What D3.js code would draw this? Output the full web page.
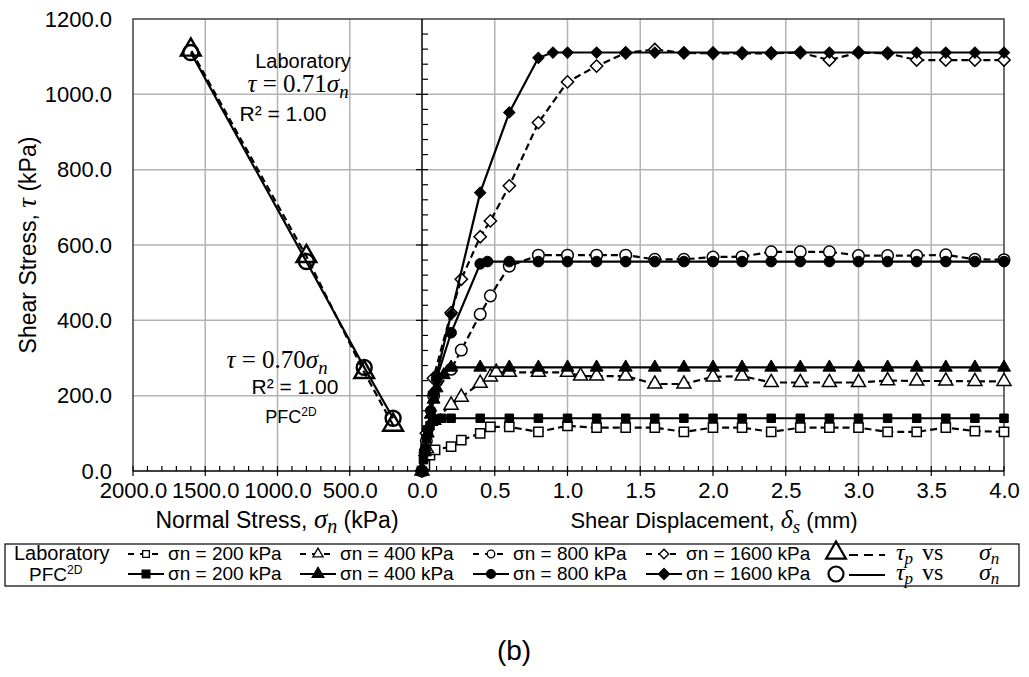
<!DOCTYPE html>
<html lang="en">
<head>
<meta charset="UTF-8">
<title>Shear stress vs displacement (b)</title>
<style>
  body { margin: 0; background: #fff; }
  text { font-family: Arial, "Liberation Sans", sans-serif; fill: #000; }
  .serif { font-family: "Liberation Serif", "DejaVu Serif", serif; }
</style>
</head>
<body>
<div class="canvas"></div>
<script src="https://cdnjs.cloudflare.com/ajax/libs/d3/7.8.5/d3.min.js"></script>
<script>
// ---- data ----
// left panel: peak shear stress vs normal stress
const normalStress = [200, 400, 800, 1600];
const labPeak = [122, 262, 570, 1118];
const pfcPeak = [140, 275, 556, 1111];

// right panel: [shear displacement (mm), shear stress (kPa)]
const lab200 = [[0,0],[0.02,15],[0.055,42],[0.09,56],[0.2,65],[0.27,82],[0.4,100],[0.47,117],[0.6,117],[0.8,104],[1.0,120],[1.2,115],[1.4,115],[1.6,115],[1.8,104],[2.0,115],[2.2,115],[2.4,104],[2.6,115],[2.8,115],[3.0,115],[3.2,104],[3.4,104],[3.6,115],[3.8,106],[4.0,104]];
const lab400 = [[0,0],[0.03,60],[0.08,135],[0.2,175],[0.27,196],[0.4,233],[0.47,250],[0.51,262],[0.6,262],[0.8,262],[1.0,262],[1.09,252],[1.2,252],[1.4,252],[1.6,231],[1.8,231],[2.0,250],[2.2,252],[2.4,235],[2.6,235],[2.8,235],[3.0,235],[3.2,240],[3.4,239],[3.6,239],[3.8,238],[4.0,238]];
const lab800 = [[0,0],[0.03,80],[0.08,200],[0.2,270],[0.27,321],[0.4,416],[0.47,465],[0.6,544],[0.8,573],[1.0,573],[1.2,573],[1.4,573],[1.6,562],[1.8,562],[2.0,568],[2.2,569],[2.4,582],[2.6,582],[2.8,582],[3.0,572],[3.2,572],[3.4,572],[3.6,574],[3.8,562],[4.0,561]];
const lab1600 = [[0,0],[0.03,100],[0.078,246],[0.2,420],[0.27,509],[0.4,622],[0.47,664],[0.6,757],[0.8,925],[1.0,1033],[1.2,1075],[1.4,1110],[1.6,1119],[1.8,1110],[2.0,1109],[2.2,1109],[2.4,1109],[2.6,1111],[2.8,1091],[3.0,1111],[3.2,1109],[3.4,1091],[3.6,1091],[3.8,1091],[4.0,1091]];

const pfc200 = [[0,0],[0.01,30],[0.02,60],[0.03,85],[0.04,100],[0.055,120],[0.08,132],[0.1,138],[0.135,140],[0.2,140],[0.4,140],[0.6,140],[0.8,140],[1.0,140],[1.2,140],[1.4,140],[1.6,140],[1.8,140],[2.0,140],[2.2,140],[2.4,140],[2.6,140],[2.8,140],[3.0,140],[3.2,140],[3.4,140],[3.6,140],[3.8,140],[4.0,140]];
const pfc400 = [[0,0],[0.02,50],[0.04,100],[0.06,150],[0.08,190],[0.1,220],[0.15,255],[0.2,275],[0.4,275],[0.6,275],[0.8,275],[1.0,275],[1.2,275],[1.4,275],[1.6,275],[1.8,275],[2.0,275],[2.2,275],[2.4,275],[2.6,275],[2.8,275],[3.0,275],[3.2,275],[3.4,275],[3.6,275],[3.8,275],[4.0,275]];
const pfc800 = [[0,0],[0.02,55],[0.04,110],[0.06,160],[0.08,205],[0.1,245],[0.2,367],[0.4,550],[0.45,556],[0.6,556],[0.8,556],[1.0,556],[1.2,556],[1.4,556],[1.6,556],[1.8,556],[2.0,556],[2.2,556],[2.4,556],[2.6,556],[2.8,556],[3.0,556],[3.2,556],[3.4,556],[3.6,556],[3.8,556],[4.0,556]];
const pfc1600 = [[0,0],[0.02,55],[0.04,110],[0.06,160],[0.08,210],[0.1,255],[0.2,416],[0.4,739],[0.6,952],[0.8,1097],[0.9,1111],[1.0,1111],[1.2,1111],[1.4,1111],[1.6,1111],[1.8,1111],[2.0,1111],[2.2,1111],[2.4,1111],[2.6,1111],[2.8,1111],[3.0,1111],[3.2,1111],[3.4,1111],[3.6,1111],[3.8,1111],[4.0,1111]];

const yTicks = [0, 200, 400, 600, 800, 1000, 1200];
const leftTicks = [2000, 1500, 1000, 500];
const rightTicks = [0, 0.5, 1.0, 1.5, 2.0, 2.5, 3.0, 3.5, 4.0];
const legendLabels = ['σn = 200 kPa', 'σn = 400 kPa', 'σn = 800 kPa', 'σn = 1600 kPa'];

// ---- setup ----
const svg = d3.select('.canvas').append('svg')
  .attr('width', 1029)
  .attr('height', 677);

const y = d3.scaleLinear().domain([0, 1200]).range([471, 19]);
const xL = d3.scaleLinear().domain([2000, 0]).range([133, 422]);
const xR = d3.scaleLinear().domain([0, 4]).range([422, 1004]);

const gridCol = '#b3b3b3';
const tickFont = '22px';

// gridlines
svg.append('g').selectAll('line').data([200, 400, 600, 800, 1000]).join('line')
  .attr('x1', 133).attr('x2', 1004)
  .attr('y1', d => y(d)).attr('y2', d => y(d))
  .attr('stroke', gridCol).attr('stroke-width', 1.5);
svg.append('g').selectAll('line').data([1500, 1000, 500]).join('line')
  .attr('x1', d => xL(d)).attr('x2', d => xL(d))
  .attr('y1', 19).attr('y2', 471)
  .attr('stroke', gridCol).attr('stroke-width', 1.5);
svg.append('g').selectAll('line').data([0.5, 1, 1.5, 2, 2.5, 3, 3.5]).join('line')
  .attr('x1', d => xR(d)).attr('x2', d => xR(d))
  .attr('y1', 19).attr('y2', 471)
  .attr('stroke', gridCol).attr('stroke-width', 1.5);

// frame
svg.append('path')
  .attr('d', 'M133,471 V19 H1004 V471')
  .attr('fill', 'none').attr('stroke', '#404040').attr('stroke-width', 1.5);

// y axis labels
const yAxis = svg.append('g')
  .attr('transform', 'translate(133,0)')
  .call(d3.axisLeft(y).tickValues(yTicks).tickSize(0).tickPadding(21).tickFormat(d3.format('.1f')));
yAxis.select('.domain').remove();

// x axes labels
const xAxisL = svg.append('g')
  .attr('transform', 'translate(0,471)')
  .call(d3.axisBottom(xL).tickValues(leftTicks).tickSize(0).tickPadding(11).tickFormat(d3.format('.1f')));
xAxisL.select('.domain').remove();
const xAxisR = svg.append('g')
  .attr('transform', 'translate(0,471)')
  .call(d3.axisBottom(xR).tickValues(rightTicks).tickSize(0).tickPadding(11).tickFormat(d3.format('.1f')));
xAxisR.select('.domain').remove();
svg.selectAll('.tick text').style('font-size', tickFont).style('font-family', 'Arial, "Liberation Sans", sans-serif');

// bottom axis line with ticks
svg.append('line').attr('x1', 133).attr('x2', 1004).attr('y1', 471).attr('y2', 471)
  .attr('stroke', '#000').attr('stroke-width', 1.5);
const minorL = d3.range(1900, 0, -100).filter(d => d % 500 !== 0);
svg.append('g').selectAll('line').data(minorL).join('line')
  .attr('x1', d => xL(d)).attr('x2', d => xL(d))
  .attr('y1', 471).attr('y2', 466).attr('stroke', '#000').attr('stroke-width', 1.2);
svg.append('g').selectAll('line').data(leftTicks).join('line')
  .attr('x1', d => xL(d)).attr('x2', d => xL(d))
  .attr('y1', 476).attr('y2', 466).attr('stroke', '#000').attr('stroke-width', 1.2);
const minorR = d3.range(1, 40).filter(d => d % 5 !== 0).map(d => d / 10);
svg.append('g').selectAll('line').data(minorR).join('line')
  .attr('x1', d => xR(d)).attr('x2', d => xR(d))
  .attr('y1', 471).attr('y2', 466).attr('stroke', '#000').attr('stroke-width', 1.2);
svg.append('g').selectAll('line').data(rightTicks).join('line')
  .attr('x1', d => xR(d)).attr('x2', d => xR(d))
  .attr('y1', 476).attr('y2', 466).attr('stroke', '#000').attr('stroke-width', 1.2);

// middle y axis (right panel) with ticks
svg.append('line').attr('x1', 422).attr('x2', 422).attr('y1', 19).attr('y2', 471)
  .attr('stroke', '#000').attr('stroke-width', 1.5);
svg.append('g').selectAll('line').data(d3.range(40, 1200, 40)).join('line')
  .attr('x1', d => d % 200 === 0 ? 416 : 422).attr('x2', 428)
  .attr('y1', d => y(d)).attr('y2', d => y(d))
  .attr('stroke', '#000').attr('stroke-width', 1.2);

// ---- marker helpers ----
const sym = {
  square: d3.symbol().type(d3.symbolSquare),
  triangle: d3.symbol().type(d3.symbolTriangle),
  circle: d3.symbol().type(d3.symbolCircle),
  diamond: d3.symbol().type(d3.symbolSquare)
};
function marker(g, type, x, yy, size, filled, sw) {
  const rot = type === 'diamond' ? ' rotate(45)' : '';
  g.append('path')
    .attr('d', sym[type].size(size)())
    .attr('transform', `translate(${x},${yy})${rot}`)
    .attr('fill', filled ? '#000' : '#fff')
    .attr('stroke', '#000')
    .attr('stroke-width', sw);
}

const line = d3.line().x(d => xR(d[0])).y(d => y(d[1]));

const labSeries = [[lab200, 'square'], [lab400, 'triangle'], [lab800, 'circle'], [lab1600, 'diamond']];
const pfcSeries = [[pfc200, 'square'], [pfc400, 'triangle'], [pfc800, 'circle'], [pfc1600, 'diamond']];
const symSize = { square: 85, triangle: 85, circle: 105, diamond: 75 };

const plot = svg.append('g');
labSeries.forEach(([data, type]) => {
  plot.append('path').datum(data).attr('d', line)
    .attr('fill', 'none').attr('stroke', '#000').attr('stroke-width', 2.2).attr('stroke-dasharray', '7,4');
  data.forEach(d => marker(plot, type, xR(d[0]), y(d[1]), symSize[type], false, 1.5));
});
pfcSeries.forEach(([data, type]) => {
  plot.append('path').datum(data).attr('d', line)
    .attr('fill', 'none').attr('stroke', '#000').attr('stroke-width', 2.2);
  data.forEach(d => marker(plot, type, xR(d[0]), y(d[1]), symSize[type] * 0.85, true, 1));
});

// left panel: peak stress vs normal stress
const peakLine = d3.line().x(d => xL(d[0])).y(d => y(d[1]));
const labPts = normalStress.map((s, i) => [s, labPeak[i]]);
const pfcPts = normalStress.map((s, i) => [s, pfcPeak[i]]);
plot.append('path').datum(labPts).attr('d', peakLine)
  .attr('fill', 'none').attr('stroke', '#000').attr('stroke-width', 2.2).attr('stroke-dasharray', '7,4');
plot.append('path').datum(pfcPts).attr('d', peakLine)
  .attr('fill', 'none').attr('stroke', '#000').attr('stroke-width', 2.2);
labPts.forEach(d => plot.append('path')
  .attr('d', d3.symbol().type(d3.symbolTriangle).size(170)())
  .attr('transform', `translate(${xL(d[0])},${y(d[1])})`)
  .attr('fill', 'none').attr('stroke', '#000').attr('stroke-width', 2.4));
pfcPts.forEach(d => plot.append('circle')
  .attr('cx', xL(d[0])).attr('cy', y(d[1])).attr('r', 7.5)
  .attr('fill', 'none').attr('stroke', '#000').attr('stroke-width', 2.4));

// ---- math text helper ----
function mathText(g, x, yy, sub, value, size, anchor) {
  const t = g.append('text').attr('x', x).attr('y', yy).attr('class', 'serif')
    .attr('text-anchor', anchor || 'middle').style('font-size', size + 'px');
  t.append('tspan').attr('font-style', 'italic').text('τ');
  t.append('tspan').text(' = ' + value);
  t.append('tspan').attr('font-style', 'italic').text('σ');
  t.append('tspan').attr('font-style', 'italic').attr('dy', size * 0.22).style('font-size', (size * 0.75) + 'px').text(sub);
  return t;
}

// annotations
svg.append('text').attr('x', 303).attr('y', 68).attr('text-anchor', 'middle')
  .style('font-size', '20px').text('Laboratory');
mathText(svg, 298, 92, 'n', '0.71', 25);
svg.append('text').attr('x', 283).attr('y', 121).attr('text-anchor', 'middle')
  .style('font-size', '21px').text('R² = 1.00');
mathText(svg, 277, 368, 'n', '0.70', 25);
svg.append('text').attr('x', 295).attr('y', 394).attr('text-anchor', 'middle')
  .style('font-size', '21px').text('R² = 1.00');
const pfcLab = svg.append('text').attr('x', 291).attr('y', 423).attr('text-anchor', 'middle')
  .style('font-size', '18px');
pfcLab.append('tspan').text('PFC');
pfcLab.append('tspan').attr('dy', -7).style('font-size', '12px').text('2D');

// axis titles
const ttlL = svg.append('text').attr('x', 277).attr('y', 528).attr('text-anchor', 'middle').style('font-size', '23px');
ttlL.append('tspan').text('Normal Stress, ');
ttlL.append('tspan').attr('class', 'serif').attr('font-style', 'italic').style('font-size', '27px').text('σ');
ttlL.append('tspan').attr('class', 'serif').attr('font-style', 'italic').attr('dy', 5).style('font-size', '20px').text('n');
ttlL.append('tspan').attr('dy', -5).text(' (kPa)');

const ttlR = svg.append('text').attr('x', 714).attr('y', 528).attr('text-anchor', 'middle').style('font-size', '22px');
ttlR.append('tspan').text('Shear Displacement, ');
ttlR.append('tspan').attr('class', 'serif').attr('font-style', 'italic').style('font-size', '26px').text('δ');
ttlR.append('tspan').attr('class', 'serif').attr('font-style', 'italic').attr('dy', 5).style('font-size', '19px').text('s');
ttlR.append('tspan').attr('dy', -5).text(' (mm)');

const ttlY = svg.append('text').attr('transform', 'translate(36,245) rotate(-90)')
  .attr('text-anchor', 'middle').style('font-size', '23px');
ttlY.append('tspan').text('Shear Stress, ');
ttlY.append('tspan').attr('class', 'serif').attr('font-style', 'italic').style('font-size', '27px').text('τ');
ttlY.append('tspan').text('   (kPa)');

// ---- legend ----
const leg = svg.append('g');
leg.append('rect').attr('x', 5).attr('y', 544).attr('width', 1014).attr('height', 42)
  .attr('fill', 'none').attr('stroke', '#000').attr('stroke-width', 1.2);
leg.append('text').attr('x', 14).attr('y', 560).style('font-size', '20px').text('Laboratory');
const pl = leg.append('text').attr('x', 29).attr('y', 581).style('font-size', '19px');
pl.append('tspan').text('PFC');
pl.append('tspan').attr('dy', -7).style('font-size', '12px').text('2D');

const itemX = [128, 300, 473, 646];
const types = ['square', 'triangle', 'circle', 'diamond'];
[[554, false], [574, true]].forEach(([ly, filled]) => {
  types.forEach((type, i) => {
    const x0 = itemX[i];
    leg.append('line').attr('x1', x0).attr('x2', x0 + 36).attr('y1', ly).attr('y2', ly)
      .attr('stroke', '#000').attr('stroke-width', 2)
      .attr('stroke-dasharray', filled ? null : '6,6');
    marker(leg, type, x0 + 18, ly, filled ? 60 : 45, filled, 1.3);
    leg.append('text').attr('x', x0 + 40).attr('y', ly + 6).style('font-size', '19px').text(legendLabels[i]);
  });
});
// τp vs σn entries
leg.append('path').attr('d', d3.symbol().type(d3.symbolTriangle).size(170)())
  .attr('transform', 'translate(836,553)').attr('fill', 'none').attr('stroke', '#000').attr('stroke-width', 2.2);
leg.append('line').attr('x1', 849).attr('x2', 885).attr('y1', 555).attr('y2', 555)
  .attr('stroke', '#000').attr('stroke-width', 2.2).attr('stroke-dasharray', '9,6');
leg.append('circle').attr('cx', 836).attr('cy', 574).attr('r', 7.5)
  .attr('fill', 'none').attr('stroke', '#000').attr('stroke-width', 2.2);
leg.append('line').attr('x1', 849).attr('x2', 885).attr('y1', 575).attr('y2', 575)
  .attr('stroke', '#000').attr('stroke-width', 2.2);
[560, 580].forEach(ly => {
  const t = leg.append('text').attr('x', 896).attr('y', ly).attr('class', 'serif').style('font-size', '24px');
  t.append('tspan').attr('font-style', 'italic').text('τ');
  t.append('tspan').attr('font-style', 'italic').attr('dy', 4).style('font-size', '17px').text('p');
  t.append('tspan').attr('x', 922).attr('dy', -4).text('vs');
  t.append('tspan').attr('x', 979).attr('font-style', 'italic').text('σ');
  t.append('tspan').attr('font-style', 'italic').attr('dy', 4).style('font-size', '17px').text('n');
});

// caption
svg.append('text').attr('x', 514).attr('y', 660).attr('text-anchor', 'middle')
  .style('font-size', '28px').text('(b)');
</script>
</body>
</html>
